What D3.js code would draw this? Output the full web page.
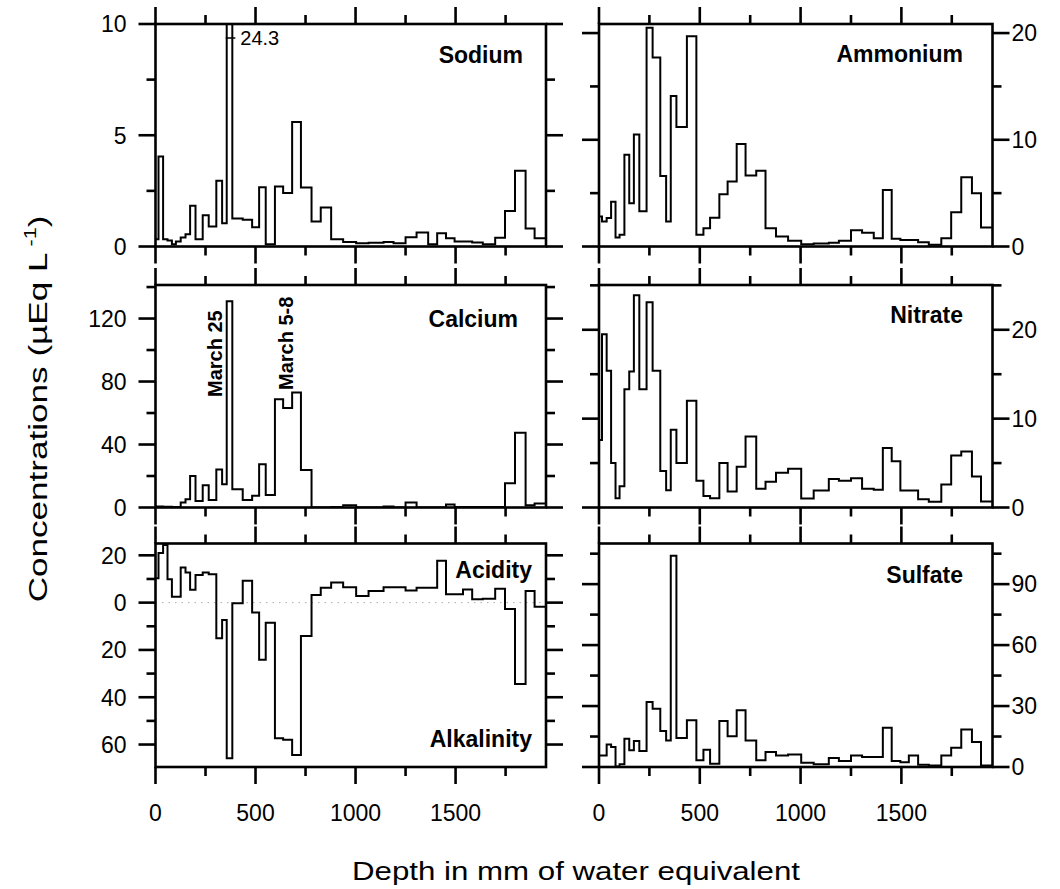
<!DOCTYPE html>
<html><head><meta charset="utf-8">
<script src="https://cdn.jsdelivr.net/npm/d3@7"></script>
<style>
body{margin:0;background:#fff}
svg{display:block}
text{font-family:"Liberation Sans",Arial,Helvetica,sans-serif;fill:#000}
</style>
</head><body>
<svg id="chart" width="1060" height="889"></svg>
<script>
// ---------- DATA ----------
// sample bin edges (mm of water equivalent), 46 samples
const depthEdges = [0, 15, 38, 60, 82, 102, 126, 150, 173, 200, 236, 266, 304, 333, 356, 384, 436, 483, 518, 551, 597, 638, 683, 727, 780, 826, 878, 938, 1003, 1065, 1140, 1190, 1250, 1305, 1363, 1408, 1452, 1495, 1537, 1583, 1636, 1698, 1747, 1797, 1850, 1895, 1952];

const sodium = [0.33, 4.04, 0.33, 0.27, 0.1, 0.22, 0.4, 0.55, 1.83, 0.33, 1.4, 0.9, 2.96, 1.05, 24.3, 1.26, 1.2, 0.87, 2.66, 0.1, 2.7, 2.4, 5.6, 2.65, 1.12, 1.75, 0.33, 0.2, 0.15, 0.17, 0.2, 0.15, 0.42, 0.63, 0.1, 0.6, 0.37, 0.22, 0.22, 0.18, 0.1, 0.39, 1.59, 3.41, 0.81, 0.37];

const ammonium = [2.8, 2.34, 2.66, 4.2, 0.84, 1.1, 8.6, 4.06, 10.5, 3.3, 20.5, 17.7, 6.6, 2.34, 14.1, 11.2, 19.7, 1.1, 1.7, 2.7, 4.9, 6.1, 9.6, 6.66, 7.1, 1.7, 0.94, 0.53, 0.22, 0.28, 0.34, 0.53, 1.53, 1.28, 0.78, 5.3, 0.72, 0.6, 0.6, 0.4, 0.16, 0.78, 3.2, 6.5, 5.0, 1.78];

const calcium = [0.6, 0.6, 0.4, 0.4, 0.3, 0.3, 3.2, 5.3, 20, 4.2, 14.1, 4.8, 24.2, 14.7, 131, 11.6, 4.8, 7.4, 27.4, 8.0, 68.8, 63.2, 73, 23.8, 0, 0, 0.3, 1.5, 0, 0, 0.6, 0, 3.2, 0, 0, 0, 1.9, 0.3, 0.3, 0.3, 0.3, 0.3, 15.4, 47.4, 1.5, 2.5];

const nitrate = [7.6, 19.5, 15.4, 5.0, 1.05, 2.4, 13.3, 15.3, 23.9, 13.3, 23.1, 15.4, 4.1, 1.95, 8.76, 5.0, 12.0, 3.0, 1.3, 1.05, 5.0, 1.8, 4.6, 8.0, 2.1, 2.9, 3.9, 4.36, 1.0, 1.9, 3.2, 3.0, 3.3, 2.1, 2.0, 6.7, 5.2, 1.9, 1.9, 0.94, 0.64, 2.6, 5.86, 6.3, 3.5, 0.68];

// positive = acidity, negative = alkalinity
const acidity = [10.3, 21, 24.4, 9.9, 2.5, 2.5, 14.9, 12.7, 5.4, 11.7, 12.7, 12.0, -15.1, -7.3, -65.8, -0.3, 9.2, -4.2, -24.2, -8.5, -57.3, -58, -64.4, -14.1, 3.2, 6.3, 8.5, 6.5, 2.8, 4.9, 6.5, 6.5, 5.1, 6.3, 6.3, 17.7, 3.5, 3.5, 5.6, 1.4, 1.6, 5.9, -2.7, -34.4, 4.9, -1.7];

const sulfate = [5.7, 5.7, 11.1, 9.8, 0.3, 1.3, 13.9, 8.2, 12.8, 7.9, 32, 28.7, 17.7, 13.1, 104, 14.3, 23, 3.3, 8.5, 1.6, 22.6, 15.1, 27.9, 13.1, 3.3, 7.4, 5.7, 6.1, 2.1, 1.3, 4.4, 3.0, 5.7, 4.9, 4.9, 19.3, 3.0, 2.3, 5.7, 1.1, 0.7, 5.7, 9.5, 18.4, 12.3, 0.8];

// axis ticks
const xMajorTicks = [0, 500, 1000, 1500];
const xMinorTicks = [250, 750, 1250, 1750];
const sodiumMajor = [0, 5, 10], sodiumMinor = [2.5, 7.5];
const ammoniumMajor = [0, 10, 20], ammoniumMinor = [5, 15];
const calciumMajor = [0, 40, 80, 120], calciumMinor = [20, 60, 100, 140];
const nitrateMajor = [0, 10, 20], nitrateMinor = [5, 15, 25];
const acidityMajor = [20, 0, -20, -40, -60], acidityMinor = [10, -10, -30, -50];
const sulfateMajor = [0, 30, 60, 90], sulfateMinor = [15, 45, 75, 105];

const panelNames = ["Sodium", "Ammonium", "Calcium", "Nitrate", "Acidity", "Sulfate"];
const sodiumPeakLabel = "24.3";
const calciumEvents = ["March 25", "March 5-8"];
const xTitle = "Depth in mm of water equivalent";

// ---------- LAYOUT ----------
const svg = d3.select("#chart");
const cols = [{x0: 155.5, x1: 546}, {x0: 599, x1: 992.5}];
const rows = [{y0: 24, y1: 246.5}, {y0: 285, y1: 507.5}, {y0: 543.5, y1: 767}];
const MAJ = 17, MIN = 9;

const panels = [
  {name: panelNames[0], values: sodium, col: 0, row: 0, domain: [0, 10], side: "left", major: sodiumMajor, minor: sodiumMinor, lx: 523, ly: 63},
  {name: panelNames[1], values: ammonium, col: 1, row: 0, domain: [0, 20.85], side: "right", major: ammoniumMajor, minor: ammoniumMinor, lx: 963, ly: 62},
  {name: panelNames[2], values: calcium, col: 0, row: 1, domain: [0, 141.3], side: "left", major: calciumMajor, minor: calciumMinor, lx: 518, ly: 327},
  {name: panelNames[3], values: nitrate, col: 1, row: 1, domain: [0, 25.04], side: "right", major: nitrateMajor, minor: nitrateMinor, lx: 963, ly: 323},
  {name: panelNames[4], values: acidity, col: 0, row: 2, domain: [-69.5, 25], side: "left", major: acidityMajor, minor: acidityMinor, lx: 532, ly: 578, fmt: v => Math.abs(v)},
  {name: panelNames[5], values: sulfate, col: 1, row: 2, domain: [0, 110], side: "right", major: sulfateMajor, minor: sulfateMinor, lx: 963, ly: 583}
];

const defs = svg.append("defs");

panels.forEach((p, i) => {
  const c = cols[p.col], r = rows[p.row];
  const x = d3.scaleLinear().domain([0, 1952]).range([c.x0, c.x1]);
  const y = d3.scaleLinear().domain(p.domain).range([r.y1, r.y0]);
  p.x = x; p.y = y;
  const g = svg.append("g");

  defs.append("clipPath").attr("id", "clip" + i)
    .append("rect").attr("x", c.x0).attr("y", r.y0).attr("width", c.x1 - c.x0).attr("height", r.y1 - r.y0);

  // zero reference (acidity)
  if (p.domain[0] < 0) {
    g.append("line").attr("x1", c.x0).attr("x2", c.x1).attr("y1", y(0)).attr("y2", y(0))
      .attr("stroke", "#aaa").attr("stroke-width", 1).attr("stroke-dasharray", "1.5,5");
  }

  // step trace
  const pts = p.values.map((v, k) => [depthEdges[k], v]);
  pts.push([depthEdges[depthEdges.length - 1], p.values[p.values.length - 1]]);
  const line = d3.line().x(d => x(d[0])).y(d => y(d[1])).curve(d3.curveStepAfter);
  g.append("path").attr("d", line(pts)).attr("fill", "none").attr("stroke", "#000")
    .attr("stroke-width", 2).attr("clip-path", `url(#clip${i})`);

  // frame
  g.append("rect").attr("x", c.x0).attr("y", r.y0).attr("width", c.x1 - c.x0).attr("height", r.y1 - r.y0)
    .attr("fill", "none").attr("stroke", "#000").attr("stroke-width", 2.6);

  const tk = g.append("g").attr("stroke", "#000").attr("stroke-width", 2.6);
  // x ticks top & bottom, outward
  [[xMajorTicks, MAJ], [xMinorTicks, MIN]].forEach(([arr, len]) => {
    arr.forEach(t => {
      tk.append("line").attr("x1", x(t)).attr("x2", x(t)).attr("y1", r.y0).attr("y2", r.y0 - len);
      tk.append("line").attr("x1", x(t)).attr("x2", x(t)).attr("y1", r.y1).attr("y2", r.y1 + len);
    });
  });
  // y ticks left & right, outward
  [[p.major, MAJ], [p.minor, MIN]].forEach(([arr, len]) => {
    arr.forEach(t => {
      tk.append("line").attr("x1", c.x0).attr("x2", c.x0 - len).attr("y1", y(t)).attr("y2", y(t));
      tk.append("line").attr("x1", c.x1).attr("x2", c.x1 + len).attr("y1", y(t)).attr("y2", y(t));
    });
  });

  // y tick labels
  const fmt = p.fmt || (v => v);
  p.major.forEach(t => {
    g.append("text")
      .attr("x", p.side === "left" ? c.x0 - 29 : c.x1 + 19)
      .attr("y", y(t)).attr("dy", "0.36em")
      .attr("text-anchor", p.side === "left" ? "end" : "start")
      .attr("font-size", 23).text(fmt(t));
  });

  // x tick labels on bottom row
  if (p.row === 2) {
    xMajorTicks.forEach(t => {
      g.append("text").attr("x", x(t)).attr("y", 821).attr("text-anchor", "middle")
        .attr("font-size", 23).text(t);
    });
  }

  // panel name
  g.append("text").attr("x", p.lx).attr("y", p.ly).attr("text-anchor", "end")
    .attr("font-size", 23).attr("font-weight", "bold").text(p.name);
});

// Alkalinity label (lower half of acidity panel)
svg.append("text").attr("x", 532).attr("y", 747).attr("text-anchor", "end")
  .attr("font-size", 23).attr("font-weight", "bold").text("Alkalinity");

// sodium off-scale peak annotation
{
  const p = panels[0];
  const k = sodium.indexOf(d3.max(sodium));
  const xa = p.x(depthEdges[k]), xb = p.x(depthEdges[k + 1]);
  svg.append("line").attr("x1", xa - 1).attr("x2", xb + 3).attr("y1", 38).attr("y2", 38)
    .attr("stroke", "#000").attr("stroke-width", 1.5);
  svg.append("text").attr("x", xb + 8).attr("y", 45).attr("font-size", 20).text(sodiumPeakLabel);
}

// calcium event labels (vertical)
{
  const p = panels[2];
  const k1 = calcium.indexOf(d3.max(calcium));
  const x1 = p.x(depthEdges[k1]) - 5;
  svg.append("text").attr("transform", `translate(${x1},397) rotate(-90)`)
    .attr("font-size", 20).attr("font-weight", "bold").text(calciumEvents[0]);
  const x2 = p.x(depthEdges[22]) + 1;
  svg.append("text").attr("transform", `translate(${x2},390) rotate(-90)`)
    .attr("font-size", 20).attr("font-weight", "bold").text(calciumEvents[1]);
}

// axis titles
svg.append("text").attr("x", 576).attr("y", 880).attr("text-anchor", "middle")
  .attr("font-size", 25).attr("textLength", 448).attr("lengthAdjust", "spacingAndGlyphs").text(xTitle);

const yt = svg.append("text").attr("transform", "translate(47,409) rotate(-90) scale(1.35,1)")
  .attr("text-anchor", "middle").attr("font-size", 26);
yt.append("tspan").text("Concentrations  (µEq L");
yt.append("tspan").attr("font-size", 16).attr("dy", -11).text(" -1");
yt.append("tspan").attr("dy", 11).text(")");
</script>
</body></html>
